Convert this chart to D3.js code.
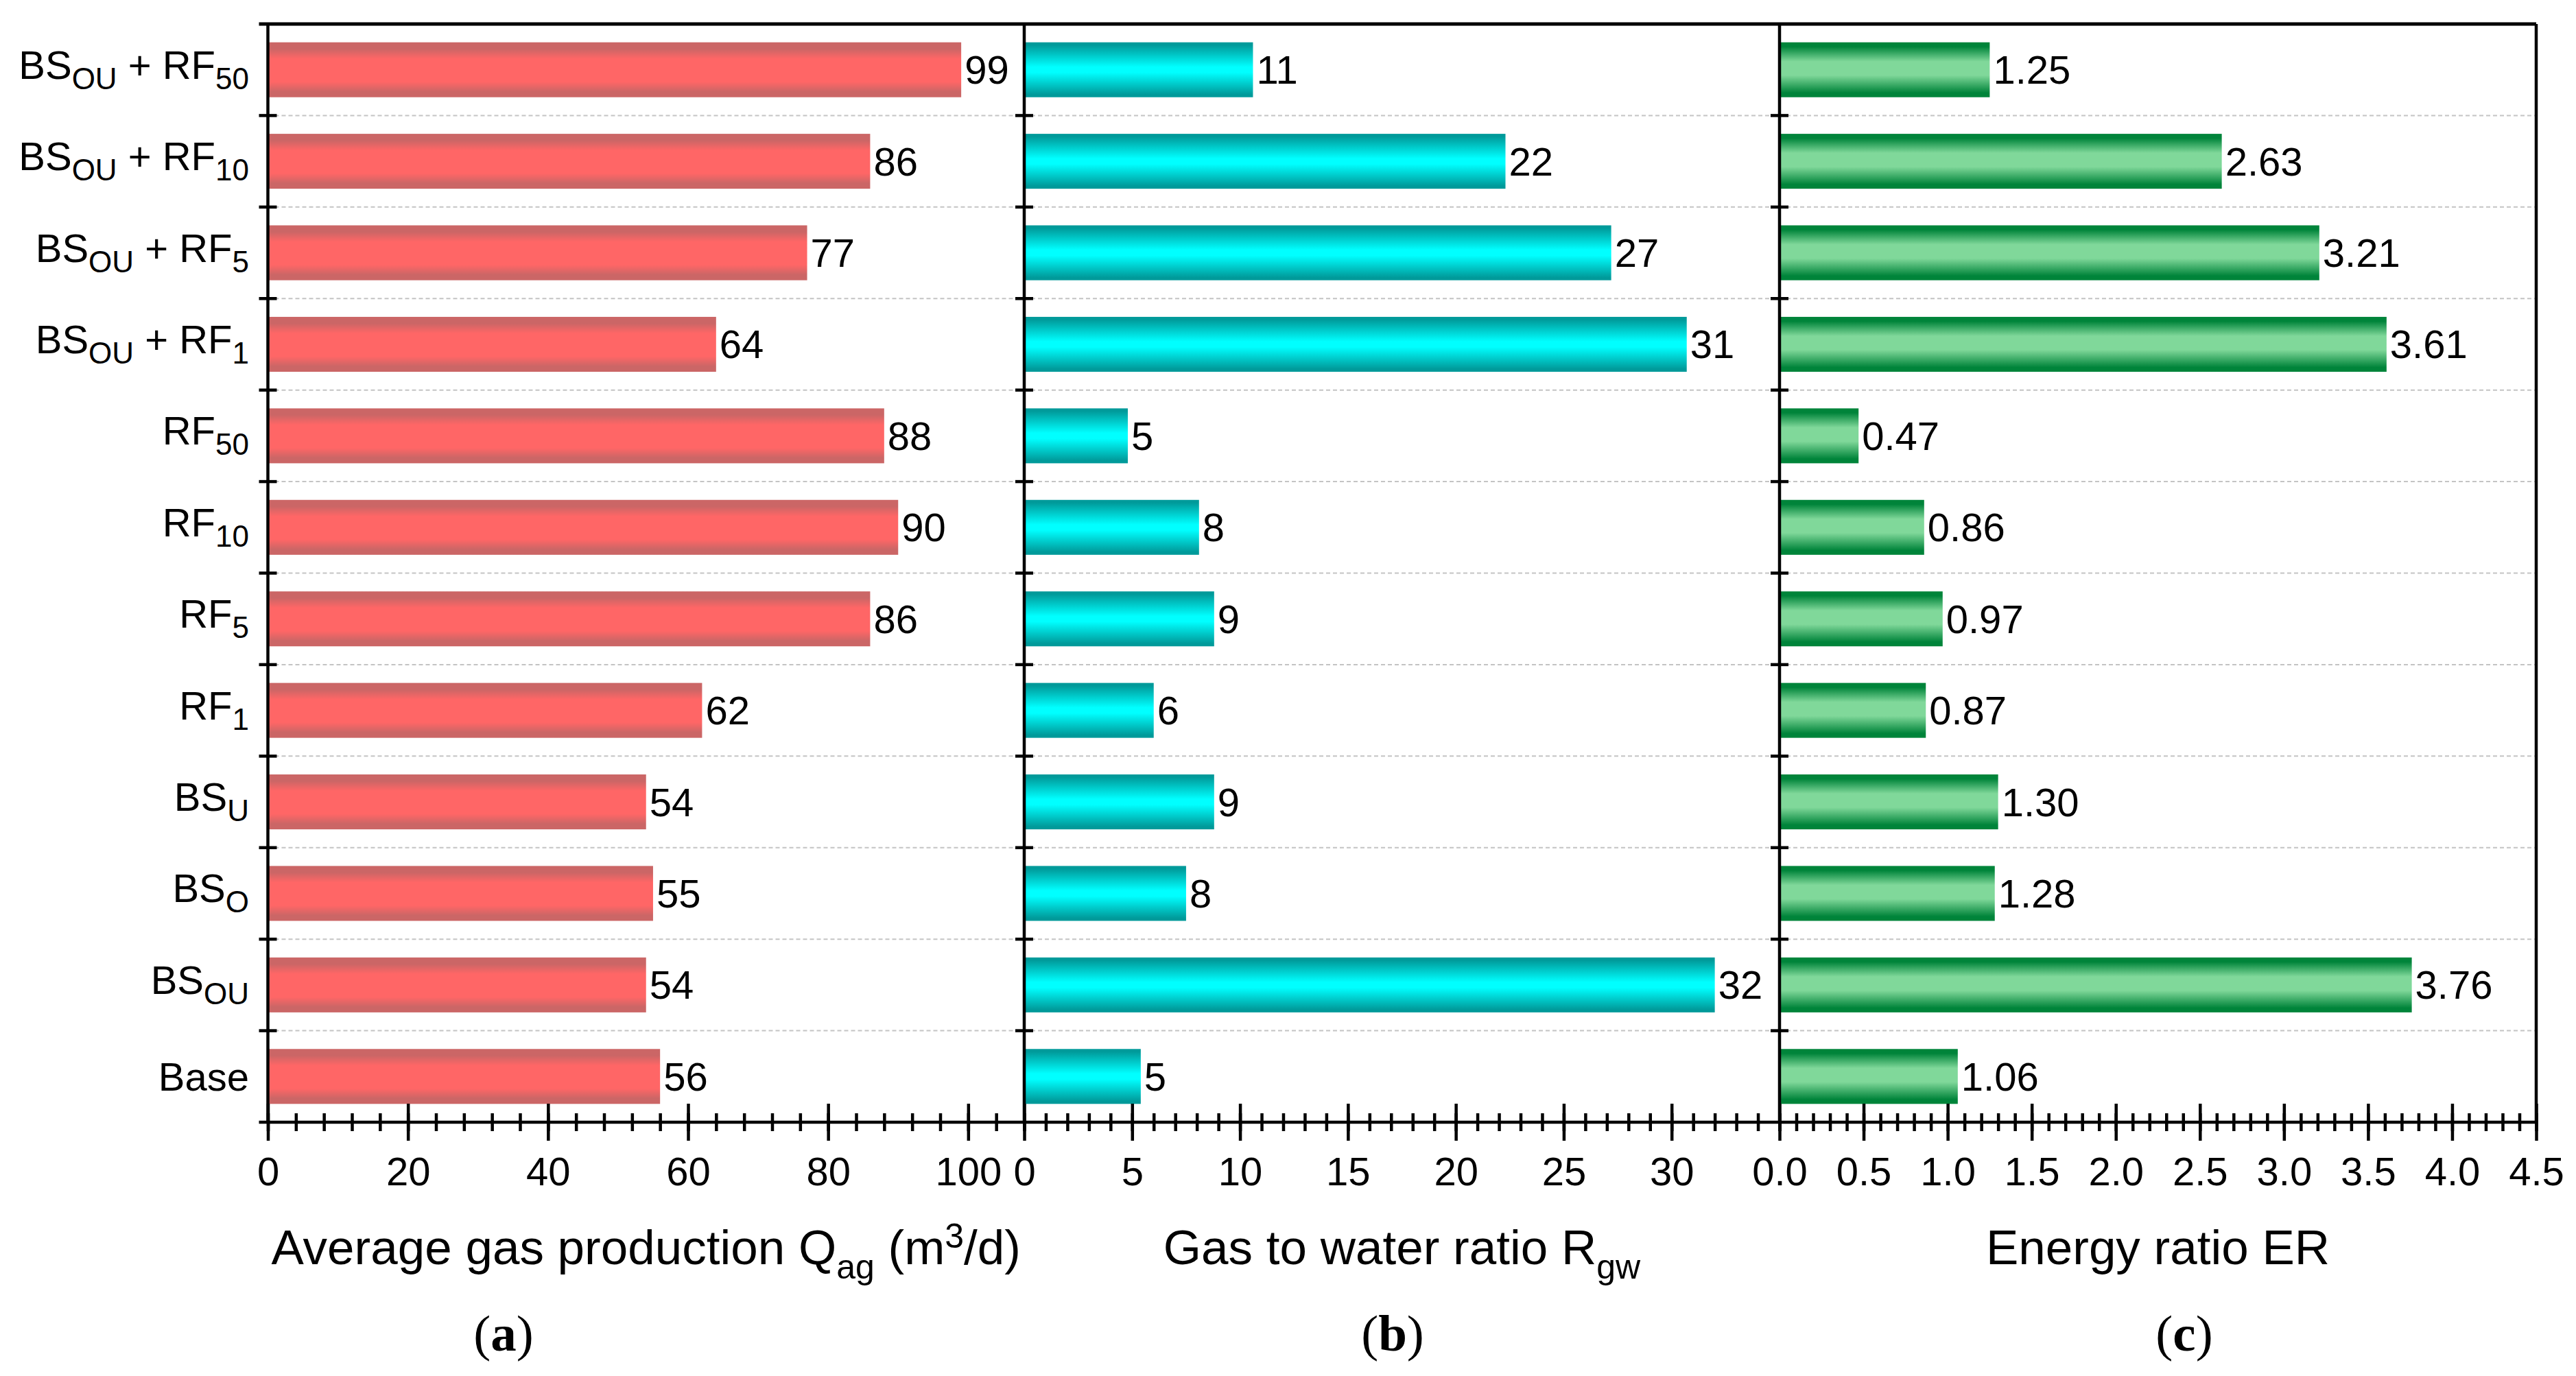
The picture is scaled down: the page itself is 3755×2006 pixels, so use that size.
<!DOCTYPE html>
<html>
<head>
<meta charset="utf-8">
<script src="https://cdn.jsdelivr.net/npm/d3@7"></script>
<style>
  body { margin: 0; background: #fff; }
  text { font-family: "Liberation Sans", Arial, sans-serif; white-space: pre; }
</style>
</head>
<body>
<div id="chart"></div>
<script>
// categories, top to bottom
const categories = [
    'BS_{OU} + RF_{50}', 'BS_{OU} + RF_{10}', 'BS_{OU} + RF_{5}', 'BS_{OU} + RF_{1}',
    'RF_{50}', 'RF_{10}', 'RF_{5}', 'RF_{1}', 'BS_{U}', 'BS_{O}', 'BS_{OU}', 'Base'
];
const gasValues = [99, 86, 77, 64, 88, 90, 86, 62, 54, 55, 54, 56];
const rgwValues = [10.6, 22.3, 27.2, 30.7, 4.8, 8.1, 8.8, 6.0, 8.8, 7.5, 32.0, 5.4];
const erValues = [1.25, 2.63, 3.21, 3.61, 0.47, 0.86, 0.97, 0.87, 1.30, 1.28, 3.76, 1.06];

const gasTicks = [0, 20, 40, 60, 80, 100];
const rgwTicks = [0, 5, 10, 15, 20, 25, 30];
const erTicks = [0, 0.5, 1.0, 1.5, 2.0, 2.5, 3.0, 3.5, 4.0, 4.5];

const axisTitles = ['Average gas production Q_{ag} (m^{3}/d)', 'Gas to water ratio R_{gw}', 'Energy ratio ER'];
const panelLetters = ['a', 'b', 'c'];

const W = 3755, H = 2006;
const plotTop = 35, plotBottom = 1636;
const panelEdges = [390.5, 1493, 2594, 3697];

const panels = [
    { values: gasValues, max: 108, ticks: gasTicks, minor: 4, tickFmt: d3.format('d'), valFmt: d3.format('.0f'), grad: 'gradRed', letterX: 734 },
    { values: rgwValues, max: 35, ticks: rgwTicks, minor: 1, tickFmt: d3.format('d'), valFmt: d3.format('.0f'), grad: 'gradCyan', letterX: 2030 },
    { values: erValues, max: 4.5, ticks: erTicks, minor: 0.1, tickFmt: d3.format('.1f'), valFmt: d3.format('.2f'), grad: 'gradGreen', letterX: 3184 }
];

const svg = d3.select('#chart').append('svg')
    .attr('width', W)
    .attr('height', H)
    .style('background', '#fff');

// bar gradients
const defs = svg.append('defs');
function addGradient(id, edge, mid, stops) {
    const g = defs.append('linearGradient')
        .attr('id', id)
        .attr('x1', 0).attr('y1', 0).attr('x2', 0).attr('y2', 1);
    stops.forEach(s => g.append('stop').attr('offset', s[0]).attr('stop-color', s[1] ? mid : edge));
}
addGradient('gradRed', '#cb6666', '#ff6666', [[0, 0], [0.12, 0], [0.3, 1], [0.72, 1], [0.9, 0], [1, 0]]);
addGradient('gradCyan', '#009a9a', '#00ffff', [[0, 0], [0.05, 0], [0.45, 1], [0.55, 1], [0.95, 0], [1, 0]]);
addGradient('gradGreen', '#00843a', '#80d89a', [[0, 0], [0.08, 0], [0.35, 1], [0.6, 1], [0.92, 0], [1, 0]]);

const y = d3.scaleBand()
    .domain(categories)
    .range([plotTop, plotBottom])
    .padding(0);
const barPad = 0.2;

// text with _{sub} and ^{sup}
function richText(textSel, str, o) {
    const re = /([_^])\{([^}]*)\}/g;
    let last = 0, offset = 0, m;
    while ((m = re.exec(str))) {
        if (m.index > last) {
            textSel.append('tspan').attr('dy', -offset).text(str.slice(last, m.index));
            offset = 0;
        }
        const shift = m[1] === '_' ? o.sub : -o.sup;
        textSel.append('tspan').attr('font-size', o.small).attr('dy', shift - offset).text(m[2]);
        offset = shift;
        last = re.lastIndex;
    }
    if (last < str.length) textSel.append('tspan').attr('dy', -offset).text(str.slice(last));
}

panels.forEach((p, i) => {
    const x0 = panelEdges[i], x1 = panelEdges[i + 1];
    const x = d3.scaleLinear().domain([0, p.max]).range([x0, x1]);
    const g = svg.append('g');

    // dashed grid lines at category boundaries
    g.selectAll('.grid')
        .data(categories.slice(1))
        .enter().append('line')
        .attr('x1', x0).attr('x2', x1)
        .attr('y1', d => y(d)).attr('y2', d => y(d))
        .attr('stroke', '#c4c4c4')
        .attr('stroke-width', 2)
        .attr('stroke-dasharray', '6,4');

    // bars
    g.selectAll('.bar')
        .data(p.values)
        .enter().append('rect')
        .attr('x', x(0))
        .attr('y', (d, j) => y(categories[j]) + y.bandwidth() * barPad)
        .attr('width', d => x(d) - x(0))
        .attr('height', y.bandwidth() * (1 - 2 * barPad))
        .attr('fill', `url(#${p.grad})`);

    // value labels
    g.selectAll('.val')
        .data(p.values)
        .enter().append('text')
        .attr('x', d => x(d) + 5)
        .attr('y', (d, j) => y(categories[j]) + y.bandwidth() / 2 + 20.5)
        .attr('font-size', 58)
        .attr('fill', '#000')
        .text(d => p.valFmt(d));

    // major ticks + labels
    const axis = g.append('g')
        .attr('transform', `translate(0,${plotBottom})`)
        .call(d3.axisBottom(x).tickValues(p.ticks).tickFormat(p.tickFmt));
    axis.select('.domain').remove();
    axis.selectAll('.tick line')
        .attr('y1', -27).attr('y2', 27)
        .attr('stroke', '#000').attr('stroke-width', 4.5);
    axis.selectAll('.tick text')
        .attr('y', 92).attr('dy', 0)
        .attr('font-size', 58)
        .attr('font-family', '"Liberation Sans", Arial, sans-serif')
        .attr('fill', '#000');

    // minor ticks
    const minorTicks = d3.range(0, Math.round(p.max / p.minor) + 1).map(k => +(k * p.minor).toFixed(4));
    const minorAxis = g.append('g')
        .attr('transform', `translate(0,${plotBottom})`)
        .call(d3.axisBottom(x).tickValues(minorTicks).tickFormat(''));
    minorAxis.select('.domain').remove();
    minorAxis.selectAll('.tick line')
        .attr('y1', -13).attr('y2', 13)
        .attr('stroke', '#000').attr('stroke-width', 4.5);

    // left axis of the panel with boundary ticks
    g.append('line')
        .attr('x1', x0).attr('x2', x0)
        .attr('y1', plotTop).attr('y2', plotBottom)
        .attr('stroke', '#000').attr('stroke-width', 4.5);
    g.selectAll('.ytick')
        .data(categories.slice(1))
        .enter().append('line')
        .attr('x1', x0 - 13).attr('x2', x0 + 13)
        .attr('y1', d => y(d)).attr('y2', d => y(d))
        .attr('stroke', '#000').attr('stroke-width', 4.5);

    // axis title
    const title = g.append('text')
        .attr('x', (x0 + x1) / 2)
        .attr('y', 1843)
        .attr('text-anchor', 'middle')
        .attr('font-size', 71)
        .attr('fill', '#000');
    richText(title, axisTitles[i], { small: 50, sub: 21, sup: 24 });

    // panel letter
    const letter = g.append('text')
        .attr('x', p.letterX)
        .attr('y', 1969)
        .attr('text-anchor', 'middle')
        .attr('font-size', 75)
        .style('font-family', '"Liberation Serif", "Times New Roman", serif')
        .attr('fill', '#000');
    letter.append('tspan').text('(');
    letter.append('tspan').attr('font-weight', 'bold').text(panelLetters[i]);
    letter.append('tspan').text(')');
});

// frame: top border, bottom axis line, right border
svg.append('line')
    .attr('x1', panelEdges[0] - 13).attr('x2', panelEdges[3])
    .attr('y1', plotTop).attr('y2', plotTop)
    .attr('stroke', '#000').attr('stroke-width', 5);
svg.append('line')
    .attr('x1', panelEdges[0] - 13).attr('x2', panelEdges[3])
    .attr('y1', plotBottom).attr('y2', plotBottom)
    .attr('stroke', '#000').attr('stroke-width', 4.5);
svg.append('line')
    .attr('x1', panelEdges[3]).attr('x2', panelEdges[3])
    .attr('y1', plotTop).attr('y2', plotBottom)
    .attr('stroke', '#000').attr('stroke-width', 4.5);

// category labels
svg.selectAll('.cat')
    .data(categories)
    .enter().append('text')
    .attr('x', 363)
    .attr('y', d => y(d) + y.bandwidth() / 2 + (d.includes('_') ? 13 : 20.5))
    .attr('text-anchor', 'end')
    .attr('font-size', 58)
    .attr('fill', '#000')
    .each(function (d) {
        richText(d3.select(this), d, { small: 44, sub: 15, sup: 20 });
    });
</script>
</body>
</html>
